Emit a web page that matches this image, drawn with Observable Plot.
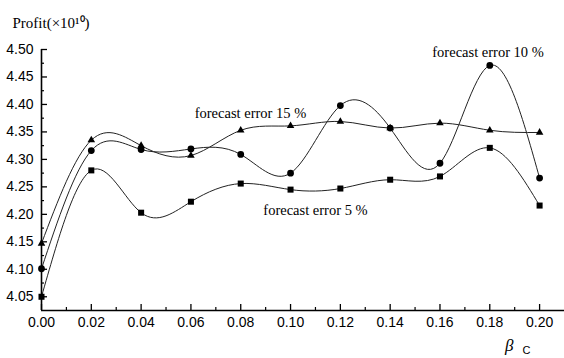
<!DOCTYPE html>
<html><head><meta charset="utf-8">
<script src="https://cdn.jsdelivr.net/npm/d3@7"></script>
<script src="https://cdn.jsdelivr.net/npm/@observablehq/plot@0.6"></script>
<style>body{margin:0;background:#fff}</style>
</head><body><div id="chart"></div>
<script>
const beta = [0.00, 0.02, 0.04, 0.06, 0.08, 0.10, 0.12, 0.14, 0.16, 0.18, 0.20];
const err5  = [4.050, 4.280, 4.203, 4.223, 4.256, 4.245, 4.247, 4.263, 4.269, 4.321, 4.216];
const err10 = [4.101, 4.316, 4.318, 4.319, 4.309, 4.275, 4.398, 4.357, 4.293, 4.471, 4.266];
const err15 = [4.147, 4.335, 4.325, 4.307, 4.353, 4.361, 4.369, 4.357, 4.366, 4.353, 4.349];
const seriesNames = ["forecast error 5 %", "forecast error 10 %", "forecast error 15 %"];
const seriesSymbols = ["square", "circle", "triangle"];
const labelX = [0.110, 0.1793, 0.0839];
const labelY = [4.207, 4.4945, 4.3835];
const xTicks = [0.00, 0.02, 0.04, 0.06, 0.08, 0.10, 0.12, 0.14, 0.16, 0.18, 0.20];
const xMinor = [0.01, 0.03, 0.05, 0.07, 0.09, 0.11, 0.13, 0.15, 0.17, 0.19];
const yTicks = [4.05, 4.10, 4.15, 4.20, 4.25, 4.30, 4.35, 4.40, 4.45, 4.50];
const yMinor = [4.075, 4.125, 4.175, 4.225, 4.275, 4.325, 4.375, 4.425, 4.475];
const yTitle = "Profit(×10¹⁰)";
const xTitle = "β";
const xTitleSub = "C";

const allSeries = [err5, err10, err15];
const rows = [];
allSeries.forEach((vals, s) => vals.forEach((v, i) => rows.push({beta: beta[i], profit: v, series: seriesNames[s], symbol: seriesSymbols[s]})));
const labels = seriesNames.map((n, i) => ({name: n, x: labelX[i], y: labelY[i]}));

const sans = "Liberation Sans, Arial, sans-serif";
const serif = "Liberation Serif, Times New Roman, serif";

const chart = Plot.plot({
  width: 564, height: 358,
  marginLeft: 41, marginRight: 0, marginTop: 49, marginBottom: 48,
  style: {background: "#fff", color: "#000", overflow: "visible"},
  x: {domain: [0, 0.21]},
  y: {domain: [4.025, 4.50]},
  symbol: {type: "identity"},
  marks: [
    Plot.axisX(xTicks, {tickSize: -6, tickPadding: 13, tickFormat: d3.format(".2f"), fontSize: 14, fontFamily: sans, label: null, strokeWidth: 1.3}),
    Plot.axisX(xMinor, {tickSize: -3, text: null, label: null, strokeWidth: 1.2}),
    Plot.axisY(yTicks, {tickSize: -6, tickPadding: 14, tickFormat: d3.format(".2f"), fontSize: 14, fontFamily: sans, label: null, strokeWidth: 1.3}),
    Plot.axisY(yMinor, {tickSize: -3, text: null, label: null, strokeWidth: 1.2}),
    Plot.ruleX([0], {stroke: "#000", strokeWidth: 1.6}),
    Plot.ruleY([4.025], {stroke: "#000", strokeWidth: 1.6}),
    Plot.line(rows, {x: "beta", y: "profit", z: "series", curve: "natural", stroke: "#222", strokeWidth: 1}),
    Plot.dot(rows, Plot.filter(d => d.symbol !== "triangle", {x: "beta", y: "profit", symbol: "symbol", fill: "#000", stroke: "none", r: 3.4})),
    Plot.dot(rows, Plot.filter(d => d.symbol === "triangle", {x: "beta", y: "profit", symbol: "symbol", fill: "#000", stroke: "none", r: 2.8})),
    Plot.text(labels, {x: "x", y: "y", text: "name", fontSize: 14.5, fontFamily: serif, fill: "#000"}),
    Plot.text([yTitle], {frameAnchor: "top-left", dx: -29, dy: -32, textAnchor: "start", fontSize: 15, fontFamily: serif, fill: "#000"}),
    Plot.text([xTitle], {frameAnchor: "bottom-right", dx: -51, dy: 40, fontSize: 17, fontStyle: "italic", fontFamily: serif, fill: "#000"}),
    Plot.text([xTitleSub], {frameAnchor: "bottom-right", dx: -34, dy: 43, fontSize: 11, fontFamily: sans, fill: "#000"})
  ]
});
document.getElementById("chart").appendChild(chart);
</script>
</body></html>
